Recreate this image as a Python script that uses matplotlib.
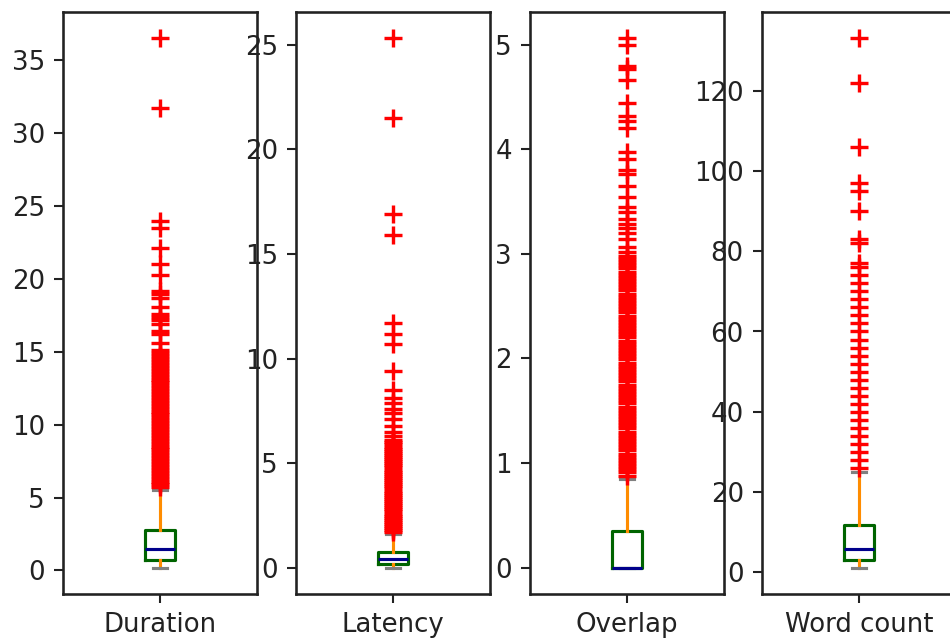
import matplotlib
matplotlib.use("Agg")

import matplotlib.pyplot as plt

labels = ["Duration", "Latency", "Overlap", "Word count"]

# box statistics
q1 = [0.69, 0.18, 0.0, 3.0]
medians = [1.44, 0.42, 0.0, 5.8]
q3 = [2.75, 0.75, 0.35, 11.8]
whis_low = [0.2, 0.02, 0.0, 1.2]
whis_high = [5.5, 1.6, 0.85, 25.0]

# outliers (the solid red bands are many close values)
duration_fliers = [36.5, 31.7, 24.0, 23.5, 22.1, 21.0, 20.3, 19.2, 19.0, 18.7,
                   18.1, 17.6, 17.4, 17.2, 16.9, 16.4, 16.2, 15.6, 15.1,
                   14.9, 14.7, 14.5, 14.3, 14.1, 13.9, 13.7, 13.5, 13.3, 13.1,
                   12.9, 12.7, 12.5, 12.3, 12.1, 11.9, 11.7, 11.5, 11.3, 11.1,
                   10.9, 10.7, 10.5, 10.3, 10.1, 9.9, 9.7, 9.5, 9.3, 9.1,
                   8.9, 8.7, 8.5, 8.3, 8.1, 7.9, 7.7, 7.5, 7.3, 7.1,
                   6.9, 6.7, 6.5, 6.3, 6.1, 5.9, 5.7]
latency_fliers = [25.3, 21.5, 16.9, 15.9, 11.7, 11.2, 10.7, 9.4, 8.5, 8.1,
                  7.9, 7.6, 7.4, 7.1, 6.8, 6.5, 6.3,
                  6.1, 6.0, 5.9, 5.8, 5.7, 5.6, 5.5, 5.4, 5.3, 5.2,
                  5.1, 5.0, 4.9, 4.8, 4.7, 4.6, 4.5, 4.4, 4.3, 4.2,
                  4.1, 4.0, 3.9, 3.8, 3.7, 3.6, 3.5, 3.4, 3.3, 3.2,
                  3.1, 3.0, 2.9, 2.8, 2.7, 2.6, 2.5, 2.4, 2.3, 2.2,
                  2.1, 2.0, 1.9, 1.8, 1.7]
overlap_fliers = [5.06, 5.0, 4.8, 4.77, 4.66, 4.44, 4.32, 4.27, 4.2, 3.97,
                  3.91, 3.8, 3.76, 3.65, 3.54, 3.45, 3.4, 3.33, 3.29, 3.25,
                  3.2, 3.14, 3.07, 3.02,
                  2.98, 2.95, 2.92, 2.89, 2.86, 2.83, 2.80, 2.77, 2.74, 2.71,
                  2.68, 2.65, 2.62, 2.59, 2.56, 2.53, 2.50, 2.47, 2.44, 2.41,
                  2.38, 2.35, 2.32, 2.29, 2.26, 2.23, 2.20, 2.17, 2.14, 2.11,
                  2.08, 2.05, 2.02, 1.99, 1.96, 1.93, 1.90, 1.87, 1.84, 1.81,
                  1.78, 1.75, 1.72, 1.69, 1.66, 1.63, 1.60, 1.57, 1.54, 1.51,
                  1.48, 1.45, 1.42, 1.39, 1.36, 1.33, 1.30, 1.27, 1.24, 1.21,
                  1.18, 1.15, 1.12, 1.09, 1.06, 1.03, 1.00, 0.97, 0.94, 0.91,
                  0.88]
word_count_fliers = [133, 122, 106, 97, 95, 90, 83, 82, 77, 76, 74, 72,
                     70, 68, 66, 64, 62, 60, 58, 56, 54, 52, 50, 48, 46, 44,
                     42, 40, 38, 36, 34, 32, 30, 28, 26]
fliers = [duration_fliers, latency_fliers, overlap_fliers, word_count_fliers]

color = {"boxes": "DarkGreen", "whiskers": "DarkOrange",
         "medians": "DarkBlue", "caps": "Gray"}

plt.rcParams["axes.linewidth"] = 1.0
plt.rcParams["axes.edgecolor"] = "#222222"
plt.rcParams["xtick.color"] = "#222222"
plt.rcParams["ytick.color"] = "#222222"

fig = plt.figure(figsize=(5.0803, 3.4333), dpi=187)
lefts = [63, 296, 530, 762]
lw = 1.2

for i, name in enumerate(labels):
    ax = fig.add_axes([lefts[i] / 950, 48 / 642, 194 / 950, 582 / 642])
    stats = [dict(label=name, q1=q1[i], med=medians[i], q3=q3[i],
                  whislo=whis_low[i], whishi=whis_high[i], fliers=fliers[i])]
    ax.bxp(stats,
           boxprops=dict(color=color["boxes"], linewidth=lw),
           whiskerprops=dict(color=color["whiskers"], linewidth=lw),
           medianprops=dict(color=color["medians"], linewidth=lw),
           capprops=dict(color=color["caps"], linewidth=lw),
           flierprops=dict(marker="+", markeredgecolor="r", markersize=7,
                           markeredgewidth=1.3, linestyle="none"))

fig.savefig("out.png", dpi=187)
